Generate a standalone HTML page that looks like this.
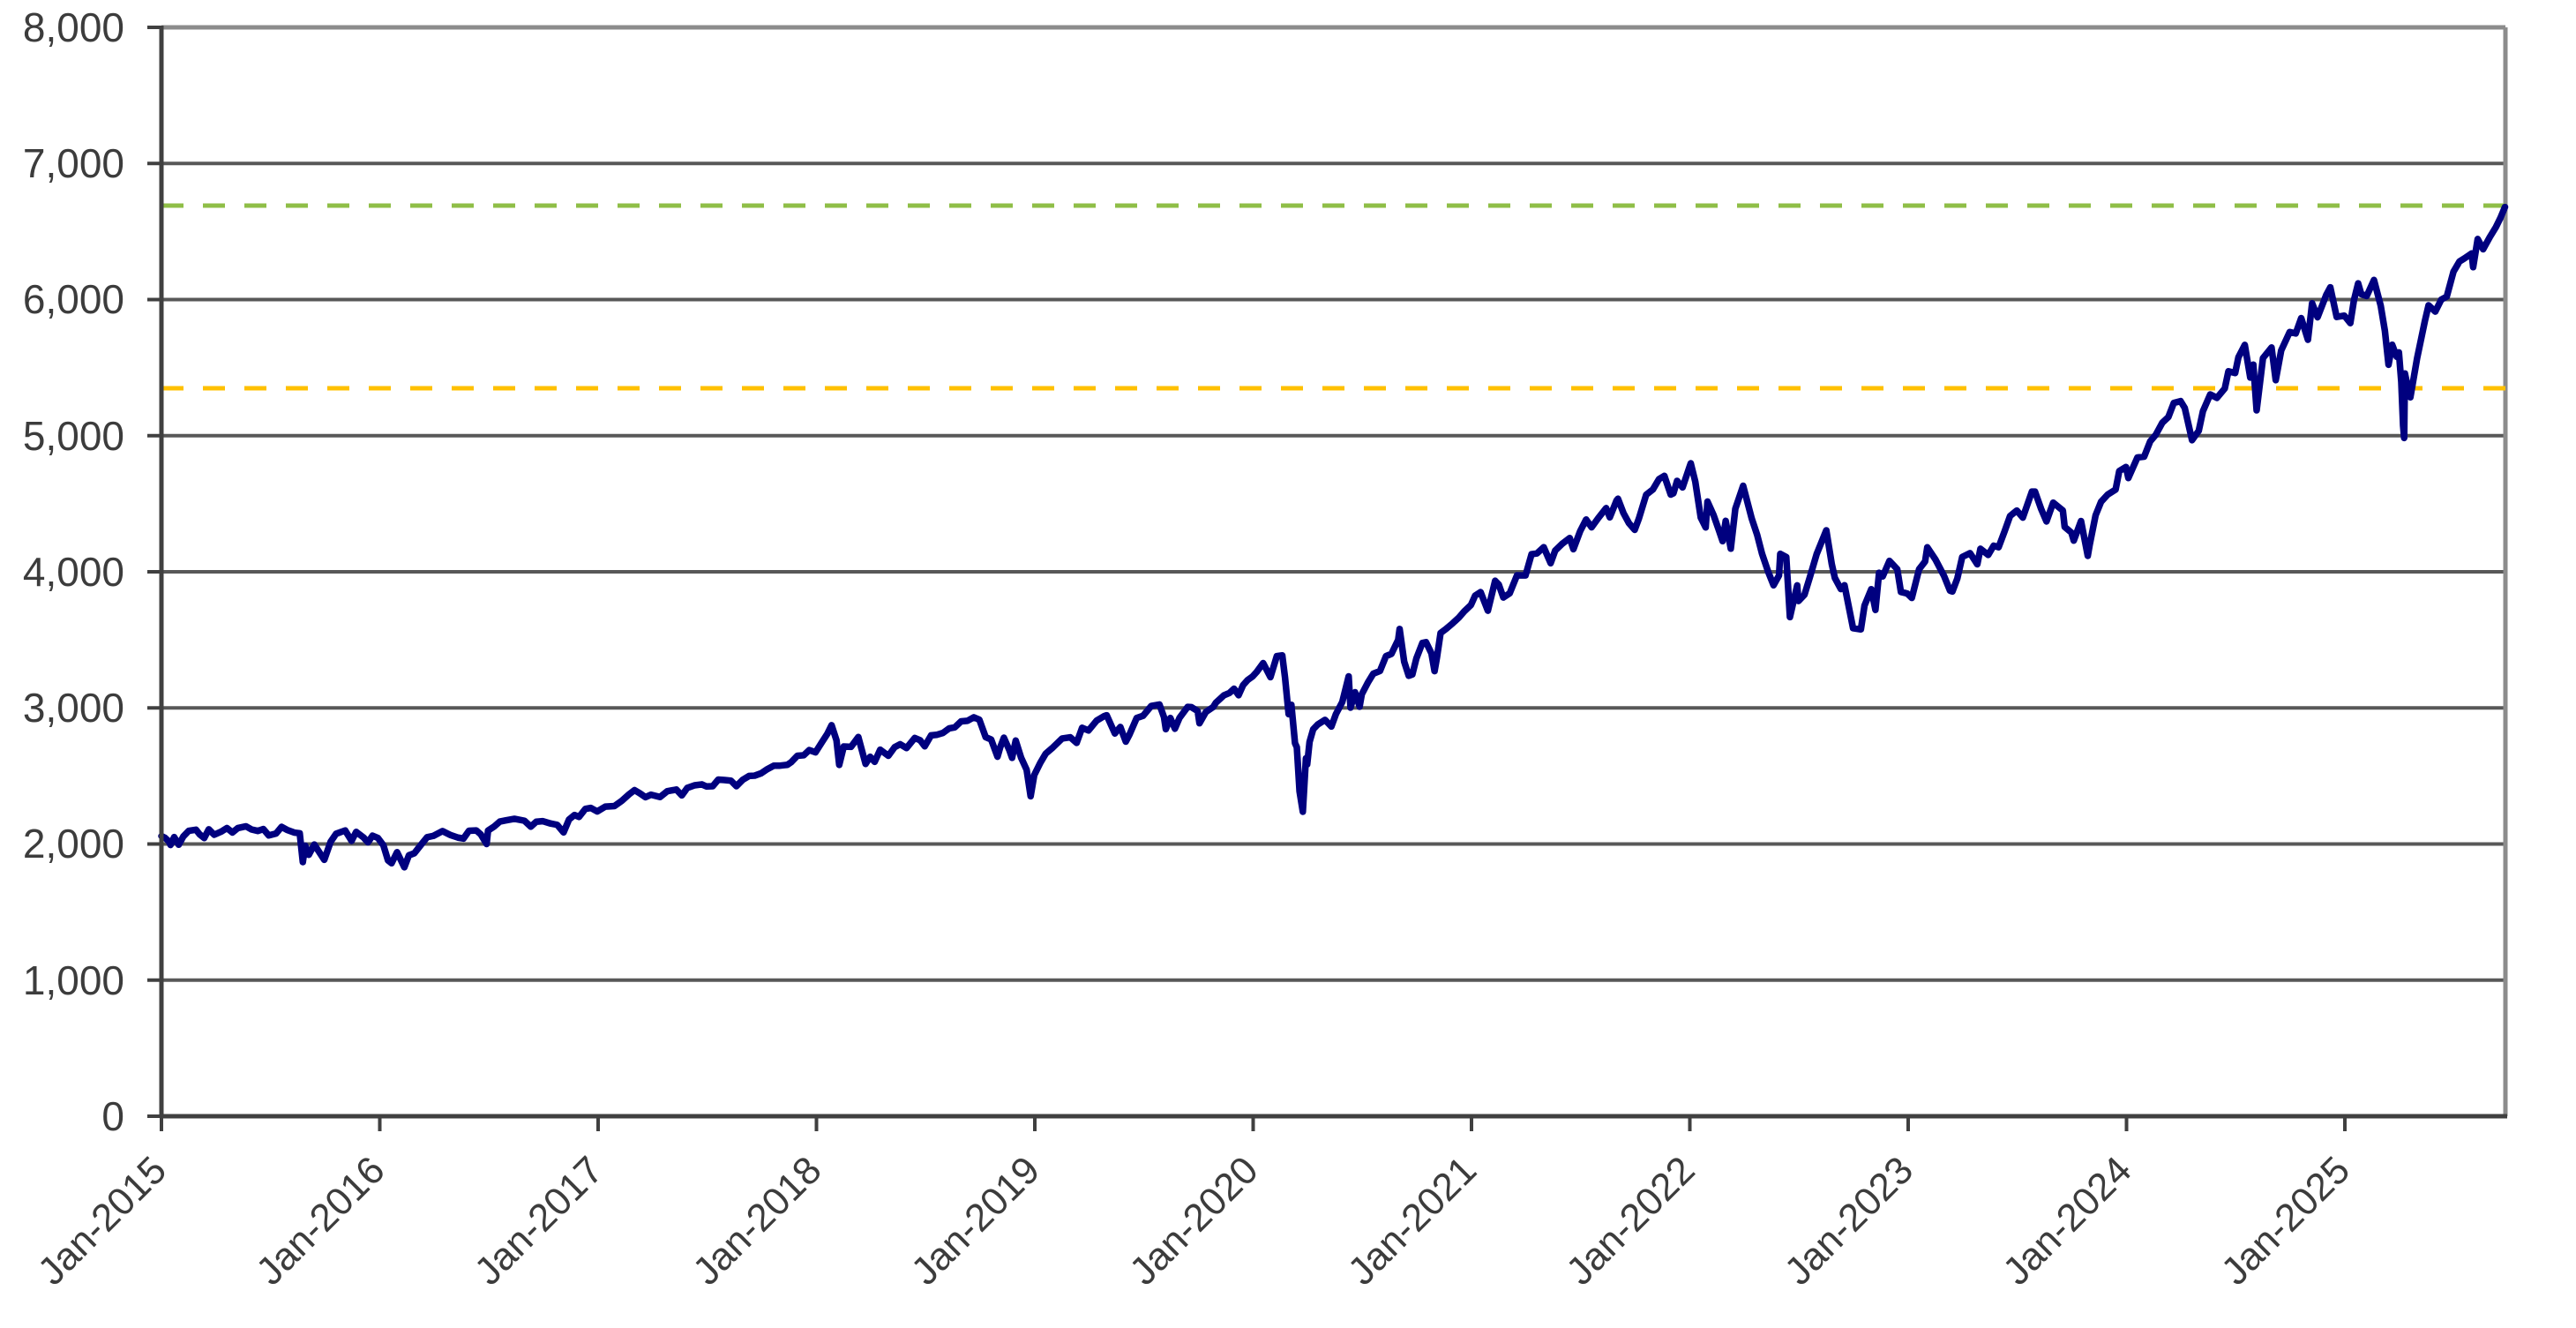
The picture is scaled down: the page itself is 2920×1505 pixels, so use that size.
<!DOCTYPE html>
<html>
<head>
<meta charset="utf-8">
<style>
html,body{margin:0;padding:0;background:#ffffff;}
svg{display:block;}
text{font-family:"Liberation Sans",Arial,sans-serif;fill:#3c3c3c;}
</style>
</head>
<body>
<svg width="2920" height="1505" viewBox="0 0 2920 1505" xmlns="http://www.w3.org/2000/svg">
<rect x="0" y="0" width="2920" height="1505" fill="#ffffff"/>
<!-- gridlines -->
<g stroke="#585858" stroke-width="4">
<line x1="183" y1="1110.75" x2="2840" y2="1110.75"/>
<line x1="183" y1="956.5" x2="2840" y2="956.5"/>
<line x1="183" y1="802.25" x2="2840" y2="802.25"/>
<line x1="183" y1="648" x2="2840" y2="648"/>
<line x1="183" y1="493.75" x2="2840" y2="493.75"/>
<line x1="183" y1="339.5" x2="2840" y2="339.5"/>
<line x1="183" y1="185.25" x2="2840" y2="185.25"/>
</g>
<!-- top and right frame -->
<line x1="183" y1="31" x2="2840" y2="31" stroke="#8c8c8c" stroke-width="5"/>
<line x1="2840" y1="31" x2="2840" y2="1265" stroke="#8c8c8c" stroke-width="5"/>
<!-- y ticks -->
<g stroke="#404040" stroke-width="4">
<line x1="167" y1="1265" x2="183" y2="1265"/>
<line x1="167" y1="1110.75" x2="183" y2="1110.75"/>
<line x1="167" y1="956.5" x2="183" y2="956.5"/>
<line x1="167" y1="802.25" x2="183" y2="802.25"/>
<line x1="167" y1="648" x2="183" y2="648"/>
<line x1="167" y1="493.75" x2="183" y2="493.75"/>
<line x1="167" y1="339.5" x2="183" y2="339.5"/>
<line x1="167" y1="185.25" x2="183" y2="185.25"/>
<line x1="167" y1="31" x2="183" y2="31"/>
</g>
<!-- x ticks -->
<g stroke="#404040" stroke-width="4">
<line x1="183" y1="1265" x2="183" y2="1282"/>
<line x1="430.5" y1="1265" x2="430.5" y2="1282"/>
<line x1="678" y1="1265" x2="678" y2="1282"/>
<line x1="925.5" y1="1265" x2="925.5" y2="1282"/>
<line x1="1173" y1="1265" x2="1173" y2="1282"/>
<line x1="1420.5" y1="1265" x2="1420.5" y2="1282"/>
<line x1="1668" y1="1265" x2="1668" y2="1282"/>
<line x1="1915.5" y1="1265" x2="1915.5" y2="1282"/>
<line x1="2163" y1="1265" x2="2163" y2="1282"/>
<line x1="2410.5" y1="1265" x2="2410.5" y2="1282"/>
<line x1="2658" y1="1265" x2="2658" y2="1282"/>
</g>
<!-- dashed reference lines -->
<line x1="183" y1="233" x2="2840" y2="233" stroke="#8fbe47" stroke-width="5" stroke-dasharray="25 22"/>
<line x1="183" y1="440" x2="2840" y2="440" stroke="#ffc000" stroke-width="5" stroke-dasharray="25 22"/>
<!-- series -->
<g transform="matrix(20.625 0 0 -0.15425 183 1265)">
<polyline fill="none" stroke="#00007f" stroke-width="7.5" stroke-linejoin="round" stroke-linecap="round" vector-effect="non-scaling-stroke" points="
0,2058 0.2,2045 0.4,2020 0.5,1993 0.7,2051 0.95,1995 1.2,2055 1.5,2097 1.9,2105 2.1,2071 2.35,2044 2.6,2108 2.9,2068 3.3,2092 3.6,2117 3.9,2085 4.2,2117 4.65,2130 4.95,2107 5.3,2096 5.6,2110 5.9,2063 6.3,2077 6.6,2126 6.9,2104 7.3,2084 7.6,2079 7.77,1867 7.9,1988 8.1,1921 8.4,1996 8.95,1884 9.3,2017 9.6,2075 9.9,2090 10.1,2099 10.45,2023 10.7,2089 11.1,2049 11.35,2012 11.6,2061 11.9,2044
12.2,1990 12.45,1880 12.65,1859 12.95,1940 13.35,1829 13.6,1917 13.9,1932 14.3,2000 14.6,2050 14.95,2060 15.45,2095 15.9,2065 16.3,2047 16.6,2040 16.9,2097 17.3,2100 17.55,2071 17.87,2000 17.95,2099 18.3,2130 18.6,2165 18.9,2173 19.4,2185 19.95,2171 20.3,2127 20.6,2164 20.95,2168 21.4,2150 21.75,2141 22.1,2085 22.4,2180 22.7,2213 22.95,2199 23.3,2258 23.6,2265 23.95,2239
24.4,2275 24.9,2279 25.3,2317 25.7,2365 26,2396 26.3,2372 26.6,2344 26.9,2362 27.4,2345 27.8,2388 28.3,2400 28.6,2357 28.9,2412 29.3,2431 29.7,2438 29.95,2423 30.3,2425 30.6,2473 30.95,2470 31.3,2465 31.6,2425 31.95,2472 32.3,2500 32.6,2502 32.95,2519 33.3,2550 33.65,2575 33.95,2575 34.4,2582 34.6,2600 34.95,2648 35.3,2652 35.6,2690 35.95,2674
36.3,2748 36.6,2810 36.83,2873 37.1,2762 37.25,2581 37.5,2716 37.9,2714 38.3,2786 38.7,2588 38.95,2641 39.2,2604 39.5,2693 39.95,2648 40.3,2712 40.6,2733 40.95,2705 41.4,2779 41.7,2762 41.95,2718 42.3,2798 42.6,2802 42.95,2816 43.3,2850 43.6,2857 43.95,2901 44.3,2905 44.65,2931 44.95,2914 45.3,2785 45.6,2768 45.95,2641 46.1,2711 46.3,2781 46.6,2690 46.75,2633 46.95,2760 47.25,2633 47.55,2546 47.77,2351 47.97,2507
48.3,2596 48.6,2664 48.95,2704 49.5,2775 49.95,2784 50.3,2743 50.6,2854 50.95,2834 51.4,2907 51.8,2939 51.95,2946 52.4,2812 52.7,2860 53,2752 53.2,2803 53.6,2926 53.95,2942 54.4,3014 54.85,3025 55.1,2932 55.2,2844 55.45,2926 55.7,2847 55.95,2926 56.4,3007 56.6,3006 56.95,2977 57.05,2887 57.4,2970 57.8,3006 57.95,3038 58.4,3093 58.7,3110 58.95,3141 59.2,3093 59.45,3168 59.7,3205 59.97,3231
60.2,3265 60.55,3329 60.95,3226 61.3,3380 61.6,3386 61.75,3225 61.95,2954 62.1,3023 62.3,2741 62.4,2711 62.55,2386 62.73,2237 62.9,2630 62.97,2585 63.1,2750 63.3,2843 63.55,2878 63.95,2912 64.3,2863 64.55,2955 64.9,3044 65.25,3232 65.35,3002 65.6,3115 65.85,3009 65.97,3100 66.3,3185 66.6,3251 66.97,3271 67.3,3380 67.6,3397 67.97,3500 68.05,3580 68.3,3340 68.55,3236 68.75,3246 68.97,3363 69.3,3477 69.5,3483 69.8,3400 69.97,3270 70.1,3369 70.3,3550 70.6,3580 70.97,3622 71.3,3663 71.6,3709 71.97,3756
72.2,3825 72.5,3851 72.9,3714 73.3,3934 73.5,3906 73.75,3811 74.1,3842 74.5,3974 74.97,3973 75.3,4129 75.6,4135 75.97,4181 76.35,4063 76.6,4156 76.97,4204 77.4,4248 77.6,4166 77.97,4298 78.3,4384 78.6,4327 78.97,4395 79.4,4468 79.6,4400 79.97,4523 80.05,4537 80.35,4432 80.65,4358 80.97,4308 81.2,4391 81.6,4566 81.97,4605 82.3,4680 82.6,4705 82.95,4567 83.1,4577 83.3,4668 83.6,4620 83.97,4766
84.05,4797 84.3,4662 84.6,4398 84.87,4326 84.97,4516 85.3,4418 85.6,4304 85.8,4225 85.97,4374 86.25,4170 86.5,4463 86.93,4632 87.4,4392 87.7,4271 87.97,4132 88.3,4002 88.6,3901 88.9,3973 88.97,4132 89.3,4108 89.5,3667 89.9,3900 89.97,3785 90.3,3831 90.6,3962 90.97,4130 91.5,4305 91.8,4057 91.97,3955 92.3,3873 92.5,3901 92.97,3586 93.4,3577 93.6,3752 93.97,3872 94.2,3720 94.4,3993 94.6,3966 94.97,4080 95.4,4019 95.6,3852 95.95,3840
96.2,3808 96.6,4019 96.93,4076 97.05,4180 97.5,4090 97.97,3970 98.3,3861 98.43,3855 98.7,3950 98.97,4109 99.4,4137 99.8,4055 99.97,4169 100.4,4124 100.7,4192 100.97,4180 101.3,4298 101.6,4410 101.97,4450 102.3,4398 102.8,4589 102.97,4589 103.3,4464 103.6,4370 103.97,4508 104.5,4450 104.6,4330 104.97,4288 105.1,4229 105.5,4373 105.87,4117 105.97,4194 106.3,4415 106.6,4514 106.97,4568 107.4,4604 107.6,4740 107.97,4770
108.1,4689 108.6,4840 108.97,4846 109.3,4958 109.6,5005 109.97,5096 110.3,5137 110.6,5241 110.97,5254 111.2,5204 111.6,4967 111.97,5036 112.2,5180 112.6,5303 112.97,5278 113.4,5347 113.6,5473 113.97,5460 114.15,5576 114.5,5667 114.8,5427 114.97,5522 115.15,5186 115.5,5570 115.97,5648 116.2,5408 116.5,5626 116.97,5762 117.3,5751 117.6,5864 117.97,5705 118.2,5973 118.5,5870 118.97,6032 119.2,6090 119.55,5872 119.97,5882
120.3,5827 120.5,5996 120.73,6119 120.9,6040 121.2,6026 121.6,6144 121.97,5955 122.2,5770 122.4,5521 122.6,5668 122.85,5580 122.97,5612 123.1,5396 123.2,5074 123.26,4983 123.3,5457 123.45,5363 123.6,5282 123.97,5569 124.4,5844 124.6,5958 124.97,5912 125.3,6000 125.6,6022 125.97,6205 126.3,6280 126.6,6305 126.97,6339 127.05,6238 127.3,6445 127.6,6370 127.97,6460 128.3,6532 128.55,6600 128.8,6680"/>
</g>
<!-- axes -->
<line x1="183" y1="29" x2="183" y2="1267" stroke="#404040" stroke-width="5"/>
<line x1="181" y1="1265" x2="2842" y2="1265" stroke="#404040" stroke-width="5"/>
<!-- y labels -->
<g font-size="46" text-anchor="end">
<text x="141" y="1281">0</text>
<text x="141" y="1127">1,000</text>
<text x="141" y="972">2,000</text>
<text x="141" y="818">3,000</text>
<text x="141" y="664">4,000</text>
<text x="141" y="510">5,000</text>
<text x="141" y="355">6,000</text>
<text x="141" y="201">7,000</text>
<text x="141" y="47">8,000</text>
</g>
<!-- x labels -->
<g font-size="44" text-anchor="end">
<text transform="translate(191,1329) rotate(-45)">Jan-2015</text>
<text transform="translate(438.5,1329) rotate(-45)">Jan-2016</text>
<text transform="translate(686,1329) rotate(-45)">Jan-2017</text>
<text transform="translate(933.5,1329) rotate(-45)">Jan-2018</text>
<text transform="translate(1181,1329) rotate(-45)">Jan-2019</text>
<text transform="translate(1428.5,1329) rotate(-45)">Jan-2020</text>
<text transform="translate(1676,1329) rotate(-45)">Jan-2021</text>
<text transform="translate(1923.5,1329) rotate(-45)">Jan-2022</text>
<text transform="translate(2171,1329) rotate(-45)">Jan-2023</text>
<text transform="translate(2418.5,1329) rotate(-45)">Jan-2024</text>
<text transform="translate(2666,1329) rotate(-45)">Jan-2025</text>
</g>
</svg>
</body>
</html>
